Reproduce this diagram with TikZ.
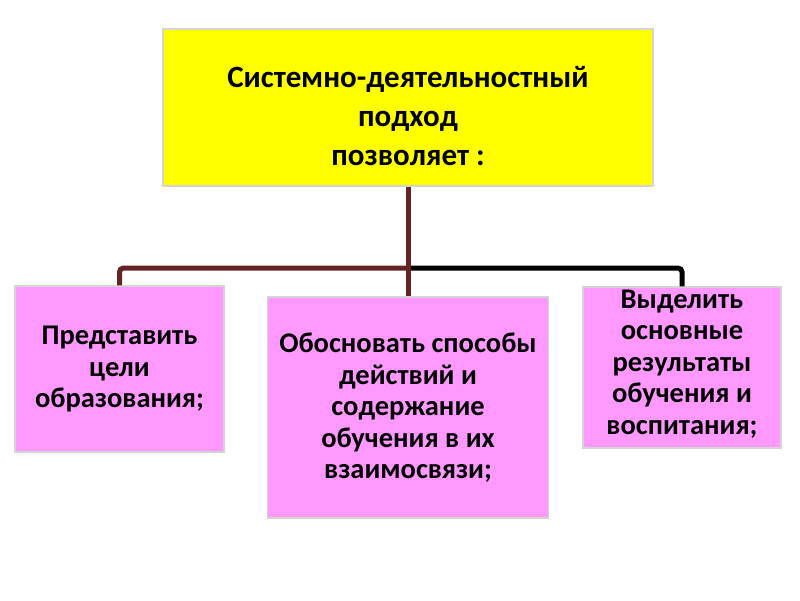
\documentclass[tikz,border=0pt]{standalone}
\usepackage{fontspec}
\setmainfont{Carlito}
\definecolor{boxyellow}{HTML}{FFFF00}
\definecolor{boxpink}{HTML}{FF99FF}
\definecolor{linebrown}{HTML}{632423}
\definecolor{edgegray}{HTML}{D4D4D4}
\tikzset{
  box/.style={draw=edgegray, line width=1.2pt, inner sep=0pt},
  ybox/.style={box, fill=boxyellow},
  pbox/.style={box, fill=boxpink},
  ttext/.style={align=center, font=\bfseries\fontsize{31}{39}\selectfont},
  btext/.style={align=center, font=\bfseries\fontsize{28.5}{31.5}\selectfont},
  brline/.style={draw=linebrown, line width=5pt, rounded corners=4pt},
  bkline/.style={draw=black, line width=5pt, rounded corners=4pt},
}
\begin{document}
\begin{tikzpicture}[x=1pt,y=-1pt]
\useasboundingbox (0,0) rectangle (800,600);
% boxes
\node[ybox, minimum width=490pt, minimum height=157pt] (top) at (408,107.5) {};
\node[pbox, minimum width=209pt, minimum height=166pt] (left) at (119.5,369) {};
\node[pbox, minimum width=281pt, minimum height=221pt] (mid) at (408,407.5) {};
\node[pbox, minimum width=198pt, minimum height=161pt] (right) at (682,367.5) {};
% connectors
\coordinate (j) at (408,268);
\draw[brline] (j) -| (left.north);
\draw[bkline] (j) -| (right.north);
\draw[brline] (top.south) -- (mid.north);
% texts
\node[ttext] (ttxt) at (408,116) {Системно-деятельностный\\подход\\позволяет :};
\node[btext] (ltxt) at (119.5,369) {Представить\\цели\\образования;};
\node[btext] (mtxt) at (408,408) {Обосновать способы\\действий и\\содержание\\обучения в их\\взаимосвязи;};
\node[btext] (rtxt) at (682,364) {Выделить\\основные\\результаты\\обучения и\\воспитания;};
\end{tikzpicture}
\end{document}
